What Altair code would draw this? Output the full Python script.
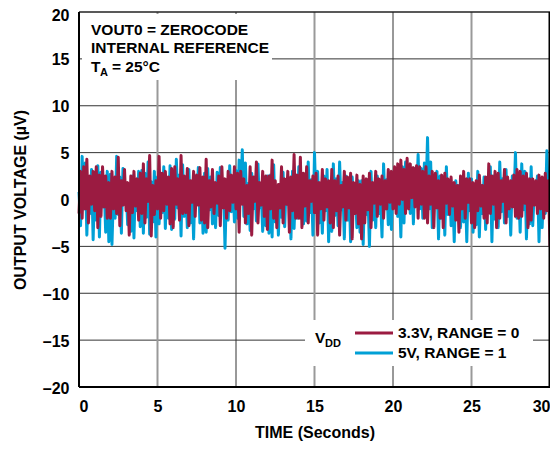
import altair as alt
import pandas as pd

# sample grid (seconds), 0.1 s apart
times = [round(i * 0.1, 1) for i in range(301)]

# 5V, RANGE = 1 (blue)
blue_vals = [
    0.8, -2.8, 4.6, -1.0, 3.9, -3.8, 2.2, -1.5, 3.2, -4.3, 1.8, -2.2, 3.6, -4.0, 2.9, -0.8, 1.6, -3.5, 3.0, -4.5,
    2.7, -4.8, 1.1, -2.0, 4.6, -1.6, 2.4, -3.6, 3.3, -0.5, 1.4, -2.7, 0.8, -3.4, 2.5, -4.1, 2.0, -1.2, 3.0, -2.9,
    3.1, -3.6, 2.8, -1.9, 4.0, -3.7, 1.9, -2.4, 3.0, -4.0, 2.4, -2.6, 1.2, -1.4, 3.5, -3.1, 2.2, -2.0, 3.6, -3.2,
    1.0, -2.1, 4.3, -0.9, 2.6, -3.9, 3.7, -1.8, 2.0, -3.0, 3.2, -2.5, 1.5, -4.2, 2.3, -0.4, 3.4, -2.5, 1.8, -3.6,
    2.8, -3.5, 3.3, -1.1, 2.4, -2.6, 0.9, -3.0, 2.9, -1.7, 3.4, -0.6, 2.0, -5.2, 1.5, -2.2, 3.6, -1.3, 2.2, -2.4,
    3.1, -2.0, 4.2, 0.4, 5.3, -1.8, 3.9, -2.6, 1.7, -3.3, 2.8, -1.0, 2.2, -2.3, 3.8, -0.9, 1.3, -3.4, 2.1, -2.8,
    2.5, -3.6, 2.6, -4.0, 3.7, -2.4, 0.9, -3.8, 1.6, -1.9, 2.9, -2.9, 1.8, -0.5, 2.2, -4.2, 3.0, -3.1, 1.5, -2.0,
    3.5, -2.0, 2.8, -2.6, 1.2, -2.3, 4.0, -1.4, 2.1, -3.8, 5.0, -0.8, 3.0, -2.5, 1.0, -3.6, 2.5, -1.2, 3.2, -4.5,
    1.6, -3.4, 3.8, -1.7, 2.2, -2.8, 4.0, -1.1, 1.8, -4.2, 2.5, -2.2, 1.5, -4.5, 2.4, -0.6, 1.2, -3.0, 2.0, -3.5,
    2.0, -4.8, 1.5, -1.6, 0.8, -5.0, 3.0, -2.2, 1.2, -3.0, 2.5, -1.5, 0.6, -4.0, 3.8, -1.0, 2.1, -2.7, 1.9, -3.2,
    2.8, -0.8, 3.2, -1.8, 1.7, -4.0, 3.5, -2.5, 4.0, -0.7, 2.6, -1.5, 3.0, -2.6, 3.3, -0.2, 4.8, -1.0, 3.3, -2.0,
    3.9, 0.5, 6.6, -1.0, 4.0, -3.0, 2.4, -0.3, 3.0, -4.2, 2.5, -2.0, 1.3, -3.8, 3.5, -1.6, 2.0, -2.8, 1.2, -4.5,
    2.0, -1.9, 1.5, -3.0, 2.2, -2.4, 1.8, -4.5, 2.8, -1.2, 2.2, -3.5, 1.1, -2.7, 3.0, -4.0, 1.5, -1.5, 2.4, -3.2,
    2.0, -0.9, 3.5, -4.5, 2.5, -2.1, 1.3, -3.0, 4.0, -1.3, 2.2, -2.5, 3.2, -1.8, 1.5, -3.8, 2.5, -0.5, 5.0, -2.0,
    1.4, -3.5, 3.8, -1.1, 3.0, -4.2, 1.6, -2.6, 3.5, -2.8, 1.0, -0.4, 2.5, -4.5, 2.2, -3.0, 1.5, -1.5, 5.2, 0.2,
    0.5,
]

# 3.3V, RANGE = 0 (maroon)
maroon_vals = [
    -1.5, 3.0, -2.0, 3.5, -1.0, 4.3, -2.5, 2.5, -0.5, 3.0, -1.2, 3.5, -3.0, 2.6, -1.8, 3.5, -0.8, 2.5, -2.0, 1.8,
    -2.0, 3.0, -1.0, 2.4, -1.5, 4.5, -2.8, 2.0, -0.6, 3.2, -1.2, 1.8, -3.8, 2.5, -1.4, 3.0, -0.7, 2.2, -2.2, 2.8,
    -1.5, 3.8, -2.5, 2.2, -0.2, 4.7, -3.9, 1.5, -1.6, 2.0, -1.0, 4.6, -2.0, 2.8, -1.2, 3.0, -0.5, 2.4, -2.6, 3.3,
    -3.0, 3.5, -0.5, 2.2, -2.2, 4.7, -1.5, 2.5, -1.4, 3.3, -2.8, 2.0, -0.3, 3.0, -1.8, 2.6, -0.6, 3.4, -2.2, 2.4,
    -2.5, 4.3, -3.0, 2.0, -0.8, 3.2, -1.5, 1.8, -0.4, 2.5, -2.8, 3.5, -0.9, 2.2, -2.0, 3.0, -1.2, 2.6, -0.3, 3.5,
    -1.0, 2.8, -3.5, 3.0, -0.5, 2.2, -2.5, 1.5, -1.5, 3.5, -3.8, 2.4, -0.2, 4.0, -2.5, 1.8, -0.6, 3.0, -1.8, 2.5,
    -3.2, 2.5, -1.0, 4.2, -2.0, 2.0, -3.0, 1.6, -0.9, 3.5, -2.5, 2.2, -0.5, 3.0, -3.5, 2.4, -1.2, 4.8, -2.0, 2.6,
    -2.0, 4.5, -3.0, 2.8, -0.7, 3.5, -2.5, 2.0, -0.2, 2.5, -1.4, 2.8, -3.8, 1.8, -1.0, 3.2, -2.2, 2.2, -0.8, 2.0,
    -2.5, 3.2, -3.0, 2.0, -1.2, 2.5, -3.8, 1.5, -0.8, 3.0, -2.2, 2.4, -0.9, 2.8, -4.2, 1.8, -1.5, 2.6, -2.6, 1.6,
    -4.2, 2.5, -2.5, 2.2, -1.1, 2.8, -3.0, 1.8, -0.4, 3.0, -1.8, 2.2, -0.5, 2.5, -2.0, 2.0, -1.0, 3.2, -0.3, 3.0,
    -1.0, 3.5, -1.5, 3.8, -0.5, 4.2, 0.0, 3.2, -1.5, 4.4, -1.0, 3.8, 0.2, 3.4, -0.8, 3.6, -2.0, 3.5, -0.5, 3.0,
    -2.0, 3.5, -2.5, 2.5, -0.5, 3.0, -3.0, 2.8, -0.9, 2.0, -2.0, 2.6, -3.0, 2.8, -0.4, 2.2, -1.6, 2.4, -0.7, 1.8,
    -2.2, 1.5, -3.5, 2.5, -1.0, 3.0, -2.0, 2.2, -0.3, 2.2, -2.5, 1.8, -3.0, 2.0, -1.2, 2.6, -0.7, 1.5, -2.0, 2.4,
    -2.5, 3.8, -1.5, 2.5, -0.5, 3.0, -3.0, 2.8, -2.0, 2.0, -0.2, 3.2, -2.5, 2.4, -1.0, 2.0, -0.8, 2.6, -1.8, 3.2,
    -2.0, 3.0, -1.8, 2.5, -0.4, 2.8, -3.0, 2.2, -2.2, 2.2, -0.6, 2.0, -1.5, 2.6, -1.0, 2.4, -2.0, 2.8, -1.2, 2.0,
    -5.0,
]

y_ticks = [-20, -15, -10, -5, 0, 5, 10, 15, 20]
x_ticks = [0, 5, 10, 15, 20, 25, 30]
hgrid = [-15, -10, -5, 0, 5, 10, 15]
vgrid_light = [5, 15, 25]
vgrid_dark = [10, 20]

series_names = ["3.3V, RANGE = 0", "5V, RANGE = 1"]
MAROON = "#9b1b41"
BLUE = "#00a0d6"
FONT = "Liberation Sans"
W, H = 471, 375

df = pd.DataFrame({
    "t": times * 2,
    "v": blue_vals + maroon_vals,
    "series": [series_names[1]] * len(times) + [series_names[0]] * len(times),
})

xs = alt.Scale(domain=[0, 30], nice=False)
ys = alt.Scale(domain=[-20, 20], nice=False)

x_axis = alt.Axis(values=x_ticks, title="TIME (Seconds)", grid=False, ticks=False,
                  domain=False, labelPadding=11, titlePadding=10)
y_axis = alt.Axis(values=y_ticks, title="OUTPUT VOLTAGE (µV)", grid=False, ticks=False,
                  domain=False, labelPadding=10, titlePadding=14,
                  labelOffset={"condition": {"test": "datum.value == 20", "value": 3}, "value": 1},
                  labelExpr="replace(datum.label, '−', '–')")

hg = alt.Chart(pd.DataFrame({"y": hgrid})).mark_rule(color="#333333", strokeWidth=1).encode(
    y=alt.Y("y:Q", scale=ys, axis=y_axis))
vgl = alt.Chart(pd.DataFrame({"x": vgrid_light})).mark_rule(color="#999999", strokeWidth=2).encode(
    x=alt.X("x:Q", scale=xs, axis=x_axis))
vgd = alt.Chart(pd.DataFrame({"x": vgrid_dark})).mark_rule(color="#333333", strokeWidth=1).encode(
    x=alt.X("x:Q", scale=xs))

blue = alt.Chart(df[df.series == series_names[1]]).mark_line(
    color=BLUE, strokeWidth=3, strokeJoin="round").encode(
    x=alt.X("t:Q", scale=xs), y=alt.Y("v:Q", scale=ys))
maroon = alt.Chart(df[df.series == series_names[0]]).mark_line(
    color=MAROON, strokeWidth=3, strokeJoin="round").encode(
    x=alt.X("t:Q", scale=xs), y=alt.Y("v:Q", scale=ys))

# frame
one = pd.DataFrame({"a": [0]})
top = alt.Chart(one).mark_rule(color="#222222", strokeWidth=1.5).encode(
    y=alt.value(0), x=alt.value(0), x2=alt.value(W))
right = alt.Chart(one).mark_rule(color="#000000", strokeWidth=3).encode(
    x=alt.value(W), y=alt.value(0), y2=alt.value(H))
left = alt.Chart(one).mark_rule(color="#000000", strokeWidth=2).encode(
    x=alt.value(0), y=alt.value(0), y2=alt.value(H))
bottom = alt.Chart(one).mark_rule(color="#000000", strokeWidth=2).encode(
    y=alt.value(H), x=alt.value(0), x2=alt.value(W))

TXT = dict(align="left", baseline="middle", font=FONT, fontWeight="bold", color="black")

# annotation box
ann_box = alt.Chart(one).mark_rect(color="white").encode(
    x=alt.value(3), x2=alt.value(193), y=alt.value(2), y2=alt.value(68))
ann1 = alt.Chart(one).mark_text(fontSize=15.5, text="VOUT0 = ZEROCODE", **TXT).encode(
    x=alt.value(12), y=alt.value(18))
ann2 = alt.Chart(one).mark_text(fontSize=15.5, text="INTERNAL REFERENCE", **TXT).encode(
    x=alt.value(12), y=alt.value(36))
ta_T = alt.Chart(one).mark_text(fontSize=15.5, text="T", **TXT).encode(
    x=alt.value(12), y=alt.value(55))
ta_A = alt.Chart(one).mark_text(fontSize=11, text="A", **TXT).encode(
    x=alt.value(21), y=alt.value(61))
ta_rest = alt.Chart(one).mark_text(fontSize=15.5, text="= 25°C", **TXT).encode(
    x=alt.value(33), y=alt.value(55))

# legend
leg_box = alt.Chart(one).mark_rect(color="white").encode(
    x=alt.value(226), x2=alt.value(454), y=alt.value(308), y2=alt.value(354))
leg_df = pd.DataFrame({"series": series_names, "yy": [321, 341]})
leg_lines = alt.Chart(leg_df).mark_rule(strokeWidth=3).encode(
    x=alt.value(276), x2=alt.value(314), y=alt.Y("yy:Q", scale=None),
    color=alt.Color("series:N", scale=alt.Scale(domain=series_names, range=[MAROON, BLUE]),
                    legend=None))
leg_text = alt.Chart(leg_df).mark_text(fontSize=15.5, **TXT).encode(
    x=alt.value(319), y=alt.Y("yy:Q", scale=None), text="series:N")
vdd_V = alt.Chart(one).mark_text(fontSize=15.5, text="V", **TXT).encode(
    x=alt.value(236), y=alt.value(326))
vdd_DD = alt.Chart(one).mark_text(fontSize=11, text="DD", **TXT).encode(
    x=alt.value(246), y=alt.value(332))

chart = alt.layer(
    hg, vgl, vgd, blue, maroon,
    ann_box, ann1, ann2, ta_T, ta_A, ta_rest,
    leg_box, leg_lines, leg_text, vdd_V, vdd_DD,
    top, right, left, bottom,
).properties(
    width=W, height=H,
    autosize=alt.AutoSizeParams(type="none"),
    padding={"left": 71, "top": 4, "right": 0, "bottom": 54},
).configure_view(stroke=None).configure_axis(
    labelFont=FONT, labelFontWeight="bold", labelFontSize=16, labelColor="black",
    titleFont=FONT, titleFontWeight="bold", titleFontSize=16, titleColor="black",
)

chart.save("out.html", embed_options={"renderer": "svg", "actions": False})
